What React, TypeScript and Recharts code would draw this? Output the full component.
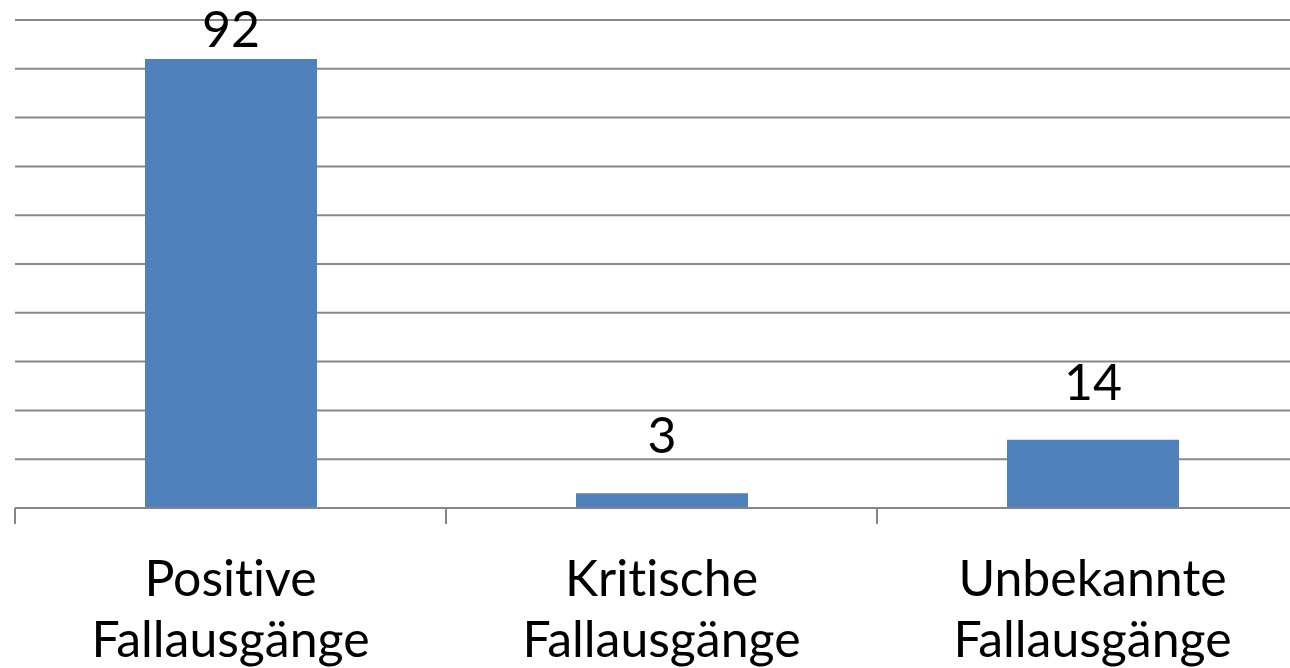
import React from 'react'
import { BarChart, Bar, XAxis, YAxis, CartesianGrid, LabelList } from 'recharts'

const categories = ['Positive Fallausgänge', 'Kritische Fallausgänge', 'Unbekannte Fallausgänge']
const counts = [92, 3, 14]
const yTicks = [0, 10, 20, 30, 40, 50, 60, 70, 80, 90, 100]

const data = categories.map((name, i) => ({ name, value: counts[i] }))

const FONT = 'Lato, "Open Sans", sans-serif'
const textStyle = { fontVariantLigatures: 'none' as const }
const AXIS_GREY = '#868686'

function CategoryTick(props: any) {
  const { x, y, payload, index } = props
  const words = String(payload.value).split(' ')
  const half = payload.offset || 0
  const axisY = y - 8
  return (
    <g>
      {/* tick marks sit on the category boundaries, not the centres */}
      <line x1={x - half} x2={x - half} y1={axisY} y2={axisY + 16} stroke={AXIS_GREY} strokeWidth={2} />
      {index === categories.length - 1 && (
        <line x1={x + half} x2={x + half} y1={axisY} y2={axisY + 16} stroke={AXIS_GREY} strokeWidth={2} />
      )}
      <text x={x} textAnchor="middle" fontFamily={FONT} fontSize={50} fill="#000" style={textStyle}>
        <tspan x={x} y={y + 80}>{words[0]}</tspan>
        <tspan x={x} y={y + 141}>{words[1]}</tspan>
      </text>
    </g>
  )
}

function ValueLabel(props: any) {
  const { x, y, width, value } = props
  // keep the label inside the top of the chart like the original does
  const baseline = Math.max(y - 40, 47)
  return (
    <text x={x + width / 2} y={baseline} textAnchor="middle" fontFamily={FONT} fontSize={50} fill="#000">
      {value}
    </text>
  )
}

export default function App() {
  return (
    <div style={{ position: 'absolute', left: 0, top: 0, width: 1290, height: 668, overflow: 'hidden', background: '#fff' }}>
      <BarChart width={1308} height={668} data={data} margin={{ top: 20, right: 0, bottom: 0, left: 15 }}>
        <CartesianGrid vertical={false} stroke="#888888" strokeWidth={2} />
        <YAxis hide domain={[0, 100]} ticks={yTicks} />
        <XAxis
          dataKey="name"
          height={160}
          axisLine={{ stroke: AXIS_GREY, strokeWidth: 2 }}
          tickLine={false}
          tick={<CategoryTick />}
          interval={0}
        />
        <Bar dataKey="value" fill="#4F81BD" barSize={172} isAnimationActive={false}>
          <LabelList dataKey="value" content={<ValueLabel />} />
        </Bar>
      </BarChart>
    </div>
  )
}
